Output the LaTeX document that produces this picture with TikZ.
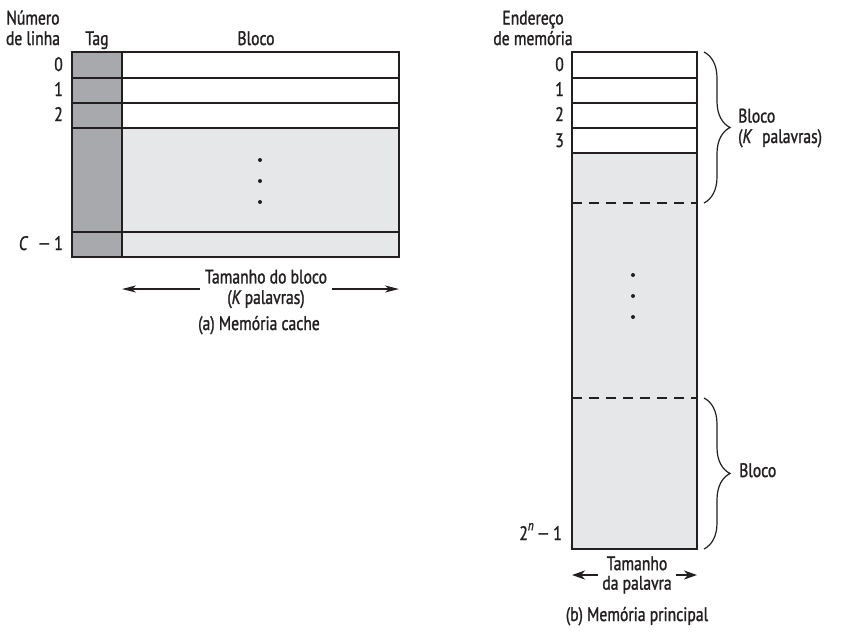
\documentclass[tikz,border=0pt]{standalone}
\usepackage{fontspec}
\setmainfont{PT Sans}[FakeStretch=0.8, FakeBold=1.3]
\newfontfamily\symfont{DejaVu Sans}[FakeStretch=0.8]
\usetikzlibrary{positioning,arrows.meta,decorations.pathreplacing}
\definecolor{taggray}{HTML}{A7A9AC}
\definecolor{cellgray}{HTML}{E6E7E8}
\definecolor{inkgray}{HTML}{231F20}
\newcommand{\minus}{{\symfont −}}
\tikzset{
  rowline/.style  = {draw=inkgray, line width=1.6pt},
  dashline/.style = {draw=inkgray, line width=1.2pt, dash pattern=on 10pt off 7pt},
  lbl/.style      = {font=\fontsize{19.5}{20.5}\selectfont, text=inkgray, inner sep=0pt, align=center},
  num/.style      = {lbl, anchor=base east},
  span/.style     = {-{Stealth[length=14pt, width=7pt, inset=4pt]}, line width=1.3pt, draw=inkgray},
  spanthick/.style= {-{Stealth[length=13pt, width=9pt, inset=4pt]}, line width=2.4pt, draw=inkgray},
  brc/.style      = {decorate, decoration={brace, amplitude=26pt}, line width=1.2pt, draw=inkgray},
  dot/.style      = {fill=inkgray},
}
\begin{document}
\begin{tikzpicture}[x=1pt,y=-1pt]
  \useasboundingbox (0,0) rectangle (848,641);

  \fill[taggray] (72,52) rectangle (122,257);
  \fill[white] (122,52) rectangle (399,128);
  \fill[cellgray] (122,128) rectangle (399,257);
  \foreach \y in {78,103,128,232} \draw[rowline] (72,\y) -- (399,\y);
  \draw[rowline] (122,52) -- (122,257);
  \draw[rowline] (72,52) rectangle (399,257);
  \foreach \y in {160,181,202} \fill[dot] (260,\y) circle (2);

  \node[lbl, anchor=base] (numlinha) at (33,45) {Número\\de linha};
  \node[lbl, anchor=base] (tag) at (97,45) {Tag};
  \node[lbl, anchor=base] (bloco) at (256,45) {Bloco};
  \foreach \n/\y in {0/71,1/96,2/121} \node[num] (lin\n) at (63,\y) {\n};
  \node[num] (linC) at (63,250) {\textit{C}\enspace\minus\,1};

  \node[lbl, inner xsep=5pt] (tambloco) at (266,289) {Tamanho do bloco\\(\textit{K}\,palavras)};
  \coordinate (blkL) at (122,289);
  \coordinate (blkR) at (399,289);
  \draw[span] (tambloco) -- (blkL);
  \draw[span] (tambloco) -- (blkR);
  \node[lbl, anchor=base] (capa) at (259,330) {(a) Memória cache};

  \fill[white] (572,52) rectangle (697,153);
  \fill[cellgray] (572,153) rectangle (697,549);
  \foreach \y in {78,103,128,153} \draw[rowline] (572,\y) -- (697,\y);
  \foreach \y in {203,398} \draw[dashline] (572,\y) -- (697,\y);
  \draw[rowline] (572,52) rectangle (697,549);
  \foreach \y in {275,296,317} \fill[dot] (633,\y) circle (2);

  \node[lbl, anchor=base] (ender) at (533,45) {Endereço\\de memória};
  \foreach \n/\y in {0/71,1/96,2/121,3/147} \node[num] (end\n) at (564,\y) {\n};
  \node[num] (endlast) at (562,540) {2\raisebox{0.5em}{\fontsize{14}{14}\selectfont\textit{n}}\,\minus\,1};

  \coordinate (b1top) at (704,52);
  \coordinate (b1bot) at (704,203);
  \coordinate (b2top) at (704,398);
  \coordinate (b2bot) at (704,549);
  \draw[brc] (b1top) -- (b1bot);
  \draw[brc] (b2top) -- (b2bot);
  \node[lbl, anchor=base west, align=left] (blocoK) at (738,143) {Bloco\\(\textit{K}\enspace palavras)};
  \node[lbl, anchor=base west] (blocoN) at (739,477) {Bloco};

  \node[lbl, inner xsep=4pt] (tampal) at (637,575) {Tamanho\\[-1pt]da palavra};
  \coordinate (palL) at (572,575);
  \coordinate (palR) at (697,575);
  \draw[spanthick] (tampal) -- (palL);
  \draw[spanthick] (tampal) -- (palR);
  \node[lbl, anchor=base] (capb) at (637,621) {(b) Memória principal};
\end{tikzpicture}
\end{document}
